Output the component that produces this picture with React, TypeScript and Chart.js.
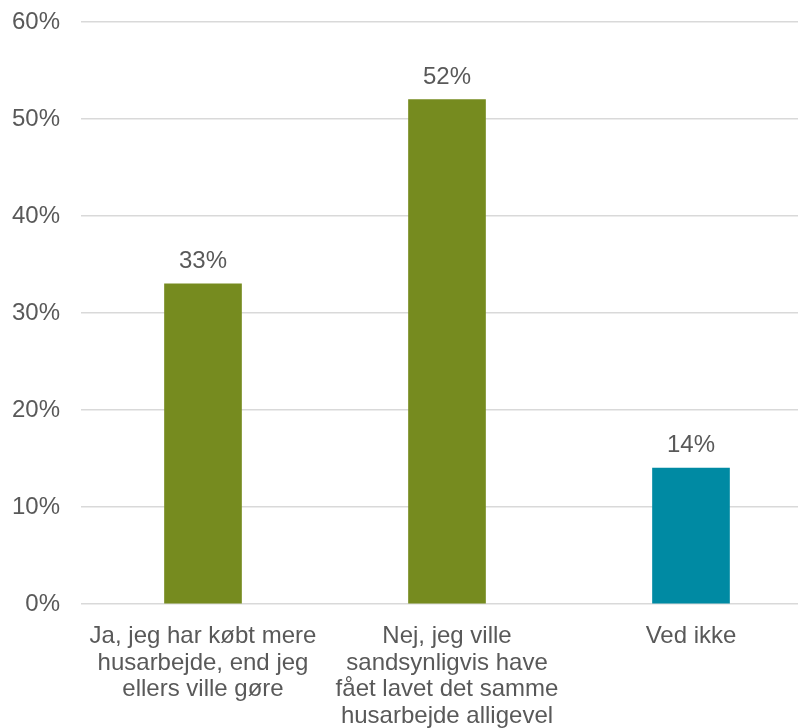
import React, { useEffect, useRef } from "react";
import { Chart, registerables } from "chart.js";

Chart.register(...registerables);

const categories: string[][] = [
  ["Ja, jeg har købt mere", "husarbejde, end jeg", "ellers ville gøre"],
  ["Nej, jeg ville", "sandsynligvis have", "fået lavet det samme", "husarbejde alligevel"],
  ["Ved ikke"],
];
const values: number[] = [33, 52, 14];
const barColors: string[] = ["#768B1F", "#768B1F", "#008AA3"];
const yTicks: number[] = [0, 10, 20, 30, 40, 50, 60];

const TEXT = "#595959";
const FONT = "'Liberation Sans', Arial, sans-serif";

const dataLabelPlugin = {
  id: "dataLabels",
  afterDatasetsDraw(chart: any) {
    const ctx = chart.ctx;
    const meta = chart.getDatasetMeta(0);
    ctx.save();
    ctx.font = `24px ${FONT}`;
    ctx.fillStyle = TEXT;
    ctx.textAlign = "center";
    ctx.textBaseline = "alphabetic";
    meta.data.forEach((bar: any, i: number) => {
      ctx.fillText(`${values[i]}%`, bar.x, bar.y - 16);
    });
    ctx.restore();
  },
};

export default function App() {
  const ref = useRef<HTMLCanvasElement | null>(null);
  useEffect(() => {
    if (!ref.current) return;
    const chart = new Chart(ref.current, {
      type: "bar",
      data: {
        labels: categories,
        datasets: [
          {
            data: values,
            backgroundColor: barColors,
            barThickness: 77,
          },
        ],
      },
      options: {
        responsive: false,
        animation: false,
        layout: { padding: { top: 22, right: 0, left: 0, bottom: 0 } },
        plugins: { legend: { display: false }, tooltip: { enabled: false } },
        scales: {
          x: {
            grid: { display: false, drawTicks: false },
            border: { display: false },
            ticks: {
              color: TEXT,
              font: { family: FONT, size: 24, lineHeight: 1.11 },
              padding: 19,
              maxRotation: 0,
              autoSkip: false,
            },
            afterFit: (s: any) => {
              s.height = 124;
            },
          },
          y: {
            min: 0,
            max: 60,
            grid: { color: "#D9D9D9", lineWidth: 1.5, drawTicks: false },
            border: { display: false },
            afterBuildTicks: (s: any) => {
              s.ticks = yTicks.map((v) => ({ value: v }));
            },
            ticks: {
              color: TEXT,
              font: { family: FONT, size: 24 },
              padding: 21,
              callback: (v: any) => `${v}%`,
            },
            afterFit: (s: any) => {
              s.width = 81;
              s.paddingTop = 0;
              s.paddingBottom = 0;
            },
          },
        },
      },
      plugins: [dataLabelPlugin],
    });
    return () => chart.destroy();
  }, []);
  return (
    <div
      style={{
        position: "fixed",
        left: 0,
        top: 0,
        width: 798,
        height: 728,
        overflow: "hidden",
        background: "#fff",
      }}
    >
      <canvas ref={ref} width={813} height={728} style={{ width: 813, height: 728, display: "block" }} />
    </div>
  );
}
